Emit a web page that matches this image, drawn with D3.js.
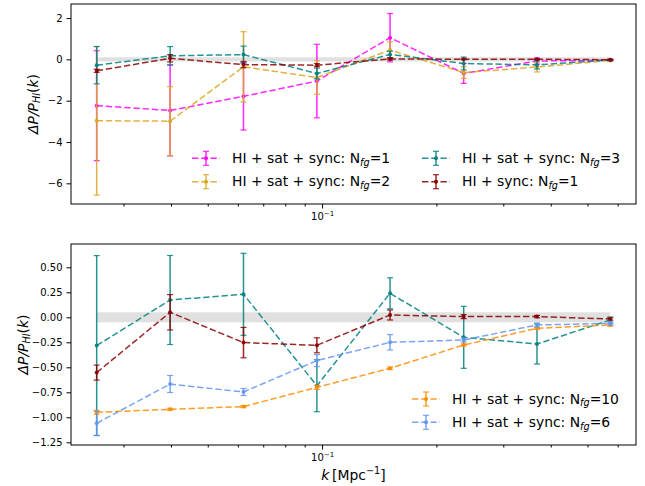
<!DOCTYPE html>
<html>
<head>
<meta charset="utf-8">
<script src="https://cdn.jsdelivr.net/npm/d3@7"></script>
<style>
  body { margin: 0; background: #fff; }
  svg { font-family: "DejaVu Sans", sans-serif; display: block; }
</style>
</head>
<body>
<svg id="fig" width="645" height="486"></svg>
<script>
// wavenumber bins [Mpc^-1]
const kBins = [0.0255, 0.0398, 0.0621, 0.0969, 0.151, 0.236, 0.368, 0.574];

// HI + sat + sync, N_fg = 1
const sat1Mean = [-2.24, -2.47, -1.79, -1.05, 1.05, -0.68, -0.08, -0.04];
const sat1Err  = [2.66, 2.20, 1.63, 1.78, 1.17, 0.48, 0.15, 0.05];
// HI + sat + sync, N_fg = 2
const sat2Mean = [-2.97, -2.99, -0.36, -0.88, 0.45, -0.64, -0.37, -0.05];
const sat2Err  = [3.60, 1.67, 1.70, 0.81, 0.40, 0.28, 0.24, 0.04];
// HI + sat + sync, N_fg = 3
const sat3Mean = [-0.283, 0.173, 0.230, -0.684, 0.240, -0.200, -0.267, -0.027];
const sat3Err  = [0.900, 0.445, 0.410, 0.260, 0.155, 0.310, 0.200, 0.030];
// HI + sync, N_fg = 1
const sync1Mean = [-0.553, 0.050, -0.253, -0.280, 0.023, 0.007, 0.007, -0.017];
const sync1Err  = [0.075, 0.177, 0.152, 0.075, 0.050, 0.020, 0.012, 0.012];
// HI + sat + sync, N_fg = 10
const sat10Mean = [-0.950, -0.920, -0.893, -0.700, -0.510, -0.277, -0.110, -0.077];
const sat10Err  = [0.020, 0.010, 0.010, 0.020, 0.012, 0.010, 0.010, 0.010];
// HI + sat + sync, N_fg = 6
const sat6Mean = [-1.060, -0.667, -0.747, -0.433, -0.250, -0.227, -0.077, -0.060];
const sat6Err  = [0.120, 0.085, 0.035, 0.060, 0.077, 0.020, 0.020, 0.020];

const topTicks = [-6, -4, -2, 0, 2];
const bottomTicks = [-1.25, -1.00, -0.75, -0.50, -0.25, 0.00, 0.25, 0.50];

const svg = d3.select("#fig");
const left = 71, right = 636;

// log x-scale with 5% padding (in log space) around the bins
const lo = Math.log10(kBins[0]), hi = Math.log10(kBins[kBins.length - 1]);
const pad = 0.05 * (hi - lo);
const x = d3.scaleLog().domain([Math.pow(10, lo - pad), Math.pow(10, hi + pad)]).range([left, right]);

const minus = s => s.replace(/-/g, "\u2212");

function panel(opts) {
  const { top, bottom, domain, ticks, fmt, band, series, legend } = opts;
  const y = d3.scaleLinear().domain(domain).range([bottom, top]);
  const g = svg.append("g");

  // shaded reference band around zero
  g.append("rect")
    .attr("x", x(kBins[0])).attr("width", x(kBins[kBins.length - 1]) - x(kBins[0]))
    .attr("y", y(band)).attr("height", y(-band) - y(band))
    .attr("fill", "#e0e0e0");

  const line = d3.line().x(d => x(d.k)).y(d => y(d.v));

  series.forEach(s => {
    const pts = kBins.map((k, i) => ({ k, v: s.mean[i], e: s.err[i] }));
    const sg = g.append("g");
    sg.append("path").datum(pts).attr("d", line)
      .attr("fill", "none").attr("stroke", s.color).attr("stroke-width", 1.5)
      .attr("stroke-dasharray", "6.4,2.8").attr("stroke-opacity", 0.85);
    const eb = sg.selectAll("g.eb").data(pts).join("g").attr("class", "eb");
    eb.append("line")
      .attr("x1", d => x(d.k)).attr("x2", d => x(d.k))
      .attr("y1", d => y(d.v - d.e)).attr("y2", d => y(d.v + d.e))
      .attr("stroke", s.color).attr("stroke-width", 1.5).attr("stroke-opacity", 0.85);
    [1, -1].forEach(sign => {
      eb.append("line")
        .attr("x1", d => x(d.k) - 3).attr("x2", d => x(d.k) + 3)
        .attr("y1", d => y(d.v + sign * d.e)).attr("y2", d => y(d.v + sign * d.e))
        .attr("stroke", s.color).attr("stroke-width", 1.2).attr("stroke-opacity", 0.85);
    });
    eb.append("circle").attr("cx", d => x(d.k)).attr("cy", d => y(d.v)).attr("r", 2)
      .attr("fill", s.color).attr("fill-opacity", 0.9);
  });

  // frame
  g.append("rect").attr("x", left).attr("y", top)
    .attr("width", right - left).attr("height", bottom - top)
    .attr("fill", "none").attr("stroke", "#000").attr("stroke-width", 1);

  // y axis
  const ya = g.append("g").attr("transform", `translate(${left},0)`)
    .call(d3.axisLeft(y).tickValues(ticks).tickFormat(d => minus(fmt(d))).tickSize(4.5).tickPadding(4));
  ya.select(".domain").remove();
  ya.selectAll("text").attr("font-size", 10).attr("font-family", "DejaVu Sans").attr("fill", "#000");

  // x axis: minor and major log ticks
  const allTicks = x.ticks();
  const major = allTicks.filter(t => Math.abs(Math.log10(t) - Math.round(Math.log10(t))) < 1e-9);
  const minor = allTicks.filter(t => !major.includes(t));
  const xm = g.append("g").attr("transform", `translate(0,${bottom})`)
    .call(d3.axisBottom(x).tickValues(minor).tickFormat(() => "").tickSize(2.5));
  xm.select(".domain").remove();
  const xM = g.append("g").attr("transform", `translate(0,${bottom})`)
    .call(d3.axisBottom(x).tickValues(major).tickFormat(() => "").tickSize(4.5));
  xM.select(".domain").remove();
  xM.selectAll(".tick").each(function (d) {
    const t = d3.select(this).select("text").text(null)
      .attr("y", 16).attr("dy", null).attr("font-size", 10).attr("fill", "#000")
      .attr("font-family", "DejaVu Sans");
    t.append("tspan").text("10");
    t.append("tspan").text(minus(String(Math.round(Math.log10(d))))).attr("font-size", 7).attr("dy", -4.5);
  });

  // legend
  legend.items.forEach(it => {
    const cx = it.x + 14, cy = it.y;
    const lg = g.append("g");
    lg.append("line").attr("x1", it.x).attr("x2", it.x + 28).attr("y1", cy).attr("y2", cy)
      .attr("stroke", it.color).attr("stroke-width", 1.5).attr("stroke-dasharray", "6.4,2.8")
      .attr("stroke-dashoffset", 0).attr("stroke-opacity", 0.85);
    lg.append("line").attr("x1", cx).attr("x2", cx).attr("y1", cy - 7).attr("y2", cy + 7)
      .attr("stroke", it.color).attr("stroke-width", 1.5).attr("stroke-opacity", 0.85);
    [-7, 7].forEach(o => lg.append("line").attr("x1", cx - 3).attr("x2", cx + 3)
      .attr("y1", cy + o).attr("y2", cy + o).attr("stroke", it.color).attr("stroke-width", 1.2)
      .attr("stroke-opacity", 0.85));
    lg.append("circle").attr("cx", cx).attr("cy", cy).attr("r", 2).attr("fill", it.color);
    const t = lg.append("text").attr("x", it.x + 40).attr("y", cy + 4.6)
      .attr("font-size", 13.9).attr("fill", "#000");
    t.append("tspan").text(it.label);
    t.append("tspan").text("fg").attr("font-style", "italic").attr("font-size", 9.7).attr("dy", 2.6);
    t.append("tspan").text("=" + it.n).attr("dy", -2.6);
  });

  // y label
  const yl = g.append("text")
    .attr("transform", `translate(${opts.ylabelX},${(top + bottom) / 2}) rotate(-90)`)
    .attr("text-anchor", "middle").attr("font-size", 13.9).attr("fill", "#000");
  yl.append("tspan").text("\u0394P/P").attr("font-style", "italic");
  yl.append("tspan").text("HI").attr("font-style", "italic").attr("font-size", 9.7).attr("dy", 2.8);
  yl.append("tspan").text("(").attr("dy", -2.8);
  yl.append("tspan").text("k").attr("font-style", "italic");
  yl.append("tspan").text(")");
  return g;
}

const C = { magenta: "#ff00ff", gold: "#daa520", teal: "#008080", darkred: "#8b0000",
            orange: "#ff8c00", blue: "#6495ed" };

panel({
  top: 4, bottom: 204, domain: [-7.0, 2.68], ticks: topTicks, fmt: d3.format("d"), band: 0.1,
  ylabelX: 37.5,
  series: [
    { mean: sat1Mean, err: sat1Err, color: C.magenta },
    { mean: sat2Mean, err: sat2Err, color: C.gold },
    { mean: sat3Mean, err: sat3Err, color: C.teal },
    { mean: sync1Mean, err: sync1Err, color: C.darkred }
  ],
  legend: { items: [
    { x: 192, y: 158.3, color: C.magenta, label: "HI + sat + sync: N", n: 1 },
    { x: 192, y: 181.7, color: C.gold, label: "HI + sat + sync: N", n: 2 },
    { x: 422, y: 158.3, color: C.teal, label: "HI + sat + sync: N", n: 3 },
    { x: 422, y: 181.7, color: C.darkred, label: "HI + sync: N", n: 1 }
  ] }
});

panel({
  top: 244, bottom: 445, domain: [-1.277, 0.733], ticks: bottomTicks, fmt: d3.format(".2f"), band: 0.05,
  ylabelX: 27.5,
  series: [
    { mean: sat3Mean, err: sat3Err, color: C.teal },
    { mean: sync1Mean, err: sync1Err, color: C.darkred },
    { mean: sat10Mean, err: sat10Err, color: C.orange },
    { mean: sat6Mean, err: sat6Err, color: C.blue }
  ],
  legend: { items: [
    { x: 412, y: 399, color: C.orange, label: "HI + sat + sync: N", n: 10 },
    { x: 412, y: 422.3, color: C.blue, label: "HI + sat + sync: N", n: 6 }
  ] }
});

// x-axis label
const xl = svg.append("text").attr("x", (left + right) / 2).attr("y", 479.5)
  .attr("text-anchor", "middle").attr("font-size", 13.9).attr("fill", "#000");
xl.append("tspan").text("k").attr("font-style", "italic");
xl.append("tspan").text("\u2009[Mpc");
xl.append("tspan").text("\u22121").attr("font-size", 9.7).attr("dy", -5.5);
xl.append("tspan").text("]").attr("dy", 5.5);
</script>
</body>
</html>
